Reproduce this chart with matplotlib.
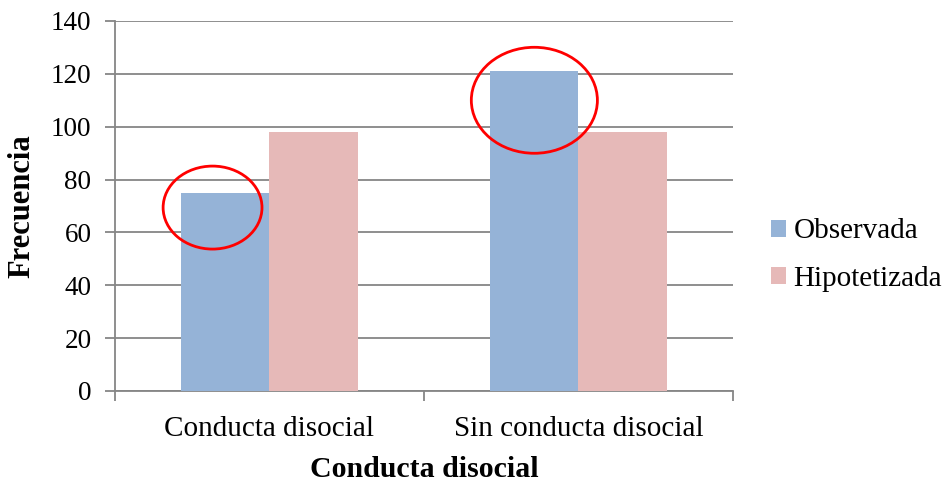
import numpy as np
import matplotlib.pyplot as plt
from matplotlib.patches import Ellipse

# Data
categories = ['Conducta disocial', 'Sin conducta disocial']
observada = [75, 121]
hipotetizada = [98, 98]
series_names = ['Observada', 'Hipotetizada']
yticks = [0, 20, 40, 60, 80, 100, 120, 140]

BLUE = '#95B3D7'
PINK = '#E6B9B8'
GRID = '#868686'

plt.rcParams['font.family'] = ['Liberation Serif', 'DejaVu Serif']

fig = plt.figure(figsize=(9.53, 4.82), dpi=100)
ax = fig.add_axes([115 / 953, 1 - 391 / 482, 618 / 953, 370 / 482])

x = np.arange(len(categories))
w = 1 / 3.5
bars_obs = ax.bar(x - w / 2, observada, w, color=BLUE, label=series_names[0], zorder=3)
bars_hip = ax.bar(x + w / 2, hipotetizada, w, color=PINK, label=series_names[1], zorder=3)

ax.set_xlim(-0.5, len(categories) - 0.5)
ax.set_ylim(0, 140)
ax.set_yticks(yticks)
ax.yaxis.grid(True, color=GRID, linewidth=1.3, zorder=0)
ax.set_axisbelow(True)

for s in ['top', 'right']:
    ax.spines[s].set_visible(False)
for s in ['left', 'bottom']:
    ax.spines[s].set_color(GRID)
    ax.spines[s].set_linewidth(1.3)

# category labels between boundary ticks
ax.set_xticks(np.arange(-0.5, len(categories)), minor=False)
ax.set_xticklabels([])
ax.set_xticks(x, minor=True)
ax.set_xticklabels(categories, minor=True)
ax.tick_params(axis='x', which='major', length=7, color=GRID, width=1.3)
ax.tick_params(axis='x', which='minor', length=0, pad=18, labelsize=21)
ax.tick_params(axis='y', length=7, color=GRID, width=1.3, labelsize=19.5, pad=10)

ax.set_ylabel('Frecuencia', fontsize=22, fontweight='bold', labelpad=10)
ax.set_xlabel('Conducta disocial', fontsize=21.5, fontweight='bold', labelpad=10)

# red ellipses around observed bar tops
b1 = bars_obs[0]
b2 = bars_obs[1]
e1 = Ellipse((b1.get_x() + b1.get_width() * 0.355, observada[0] - 5.6),
             0.320, 31.4, fill=False, edgecolor='red', linewidth=2, zorder=5)
e2 = Ellipse((b2.get_x() + b2.get_width() * 0.5, observada[1] - 11),
             0.408, 40.1, fill=False, edgecolor='red', linewidth=2, zorder=5)
ax.add_patch(e1)
ax.add_patch(e2)

leg = fig.legend(handles=[bars_obs, bars_hip], labels=series_names,
                 loc='center left', bbox_to_anchor=(771 / 953, 1 - 255 / 482),
                 frameon=False, fontsize=21, handlelength=0.52, handleheight=0.52,
                 handletextpad=0.25, labelspacing=0.72, borderpad=0, borderaxespad=0)

fig.savefig('out.png', dpi=100)
